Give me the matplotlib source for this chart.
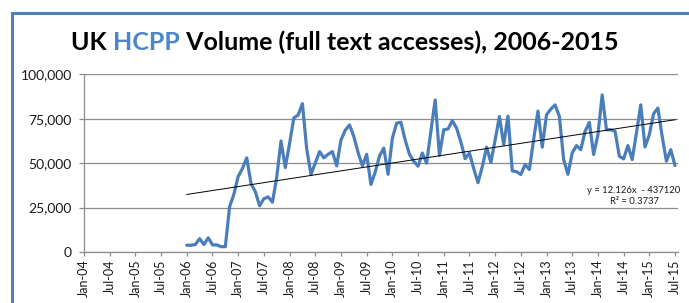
import datetime as dt
import matplotlib
matplotlib.use("Agg")
import matplotlib.pyplot as plt
from matplotlib.patches import Rectangle
from matplotlib.ticker import FuncFormatter, FixedLocator

plt.rcParams['font.family'] = ['Lato', 'DejaVu Sans']

# ---- data (monthly full-text accesses, Jan-2006 .. Jul-2015) ----
start_year, start_month = 2006, 1
volume = [
    3800, 3800, 4200, 7500, 4200, 8000, 4000, 4000, 3000, 3000, 25500, 32500,      # 2006
    42500, 47000, 53000, 38500, 34000, 26000, 30000, 31000, 28000, 42000, 62500, 47500,  # 2007
    61000, 75500, 77000, 83500, 58000, 43700, 50000, 56500, 53000, 55000, 56500, 48500,  # 2008
    63000, 68500, 71500, 65000, 56000, 48500, 55000, 38000, 45000, 54000, 58500, 43700,  # 2009
    64000, 72500, 73000, 63000, 55000, 51000, 48300, 55700, 50000, 68000, 85600, 54400,  # 2010
    68800, 69200, 73900, 69700, 61900, 52500, 55700, 47000, 39000, 48000, 59000, 50400,  # 2011
    63000, 76300, 60400, 76500, 45600, 45200, 43600, 49200, 46400, 63500, 79300, 59000,  # 2012
    77200, 80400, 82800, 76300, 52000, 43700, 55800, 59900, 57600, 67900, 72900, 54900,  # 2013
    66000, 88400, 68800, 68800, 67900, 53900, 52400, 59900, 52000, 67000, 82800, 59100,  # 2014
    66000, 77800, 81000, 65100, 51100, 57600, 48700,                                     # 2015
]
trend_slope = 12.126
trend_intercept = -437120
trend_label = "y = 12.126x  - 437120\nR\u00b2 = 0.3737"
y_ticks = [0, 25000, 50000, 75000, 100000]
title_parts = ["UK ", "HCPP", " Volume (full text accesses), 2006-2015"]

axis_start = (2004, 1)
tick_labels = []
for y in range(2004, 2016):
    tick_labels.append(f"Jan-{y % 100:02d}")
    tick_labels.append(f"Jul-{y % 100:02d}")

# ---- helpers ----
def month_index(year, month):
    return (year - axis_start[0]) * 12 + (month - axis_start[1])

def excel_serial(year, month):
    return (dt.date(year, month, 1) - dt.date(1899, 12, 30)).days

dates = []
for i in range(len(volume)):
    mi = start_month - 1 + i
    dates.append((start_year + mi // 12, mi % 12 + 1))
xs = [month_index(y, m) for y, m in dates]
trend_x = [xs[0], xs[-1]]
trend_y = [trend_slope * excel_serial(*dates[0]) + trend_intercept,
           trend_slope * excel_serial(*dates[-1]) + trend_intercept]

# ---- figure ----
W, H = 689, 303
fig = plt.figure(figsize=(W / 100, H / 100), dpi=100)
fig.patch.set_facecolor("white")

# outer chart frame (blue, partially cropped)
frame = Rectangle((12 / W, -0.2), 1.2, (H - 13) / H + 0.2, transform=fig.transFigure,
                  fill=False, edgecolor="#4F81BD", linewidth=2.2, zorder=0)
fig.patches.append(frame)

ax = fig.add_axes([84 / W, 1 - 252 / H, (678 - 84) / W, (252 - 74.3) / H])
ax.set_facecolor("none")

grid_c = "#8C8C8C"
ax.plot(xs, volume, color="#4A7EBB", linewidth=2.3, solid_joinstyle="round",
        solid_capstyle="round", zorder=3)
ax.plot(trend_x, trend_y, color="black", linewidth=0.7, zorder=4)

ax.set_ylim(0, 100000)
ax.set_xlim(0, 138.7)
ax.yaxis.set_major_locator(FixedLocator(y_ticks))
ax.yaxis.set_major_formatter(FuncFormatter(lambda v, p: f"{int(v):,}"))
ax.set_xticks([6 * i for i in range(len(tick_labels))])
ax.set_xticklabels(tick_labels, rotation=90)

ax.grid(axis="y", color=grid_c, linewidth=0.9)
ax.set_axisbelow(True)
for s in ["top", "right"]:
    ax.spines[s].set_visible(False)
for s in ["left", "bottom"]:
    ax.spines[s].set_color(grid_c)
    ax.spines[s].set_linewidth(0.9)
ax.tick_params(axis="y", length=3.4, width=0.9, color=grid_c, pad=5.5,
               labelsize=10, labelcolor="#1a1a1a")
ax.tick_params(axis="x", length=3.0, width=0.9, color=grid_c, pad=2.5,
               labelsize=9, labelcolor="#1a1a1a")

fig.text(634 / W, 1 - 196 / H, trend_label, ha="center",
         va="center", fontsize=6.8, color="#1a1a1a", linespacing=1.35)

# ---- multi-colour title ----
colors = ["black", "#4A86C8", "black"]
texts = [fig.text(0, 1 - 42 / H, p, fontsize=18, fontweight="bold", color=c,
                  va="center", ha="left") for p, c in zip(title_parts, colors)]
fig.canvas.draw()
r = fig.canvas.get_renderer()
widths = [t.get_window_extent(r).width for t in texts]
total = sum(widths)
x0 = (345 - total / 2)
for t, w in zip(texts, widths):
    t.set_x(x0 / W)
    x0 += w

fig.savefig("out.png", dpi=100)
